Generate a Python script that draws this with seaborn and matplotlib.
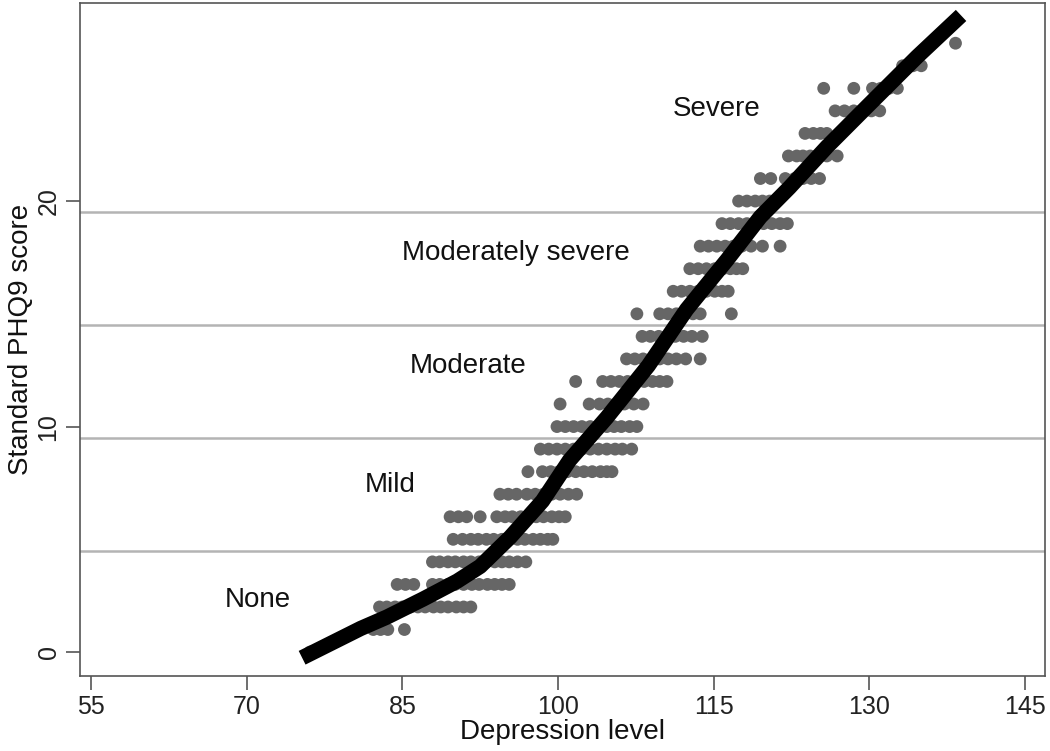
import numpy as np
import pandas as pd
import matplotlib
matplotlib.use("Agg")
import matplotlib.pyplot as plt
import seaborn as sns

# observed points: PHQ9 score -> depression levels seen at that score
none_pts = {
    0: [76.1],
    1: [82.2, 82.9, 83.6, 85.2],
    2: [82.8, 83.5, 84.3, 85.0, 85.8, 86.5, 87.2, 88.0, 88.7, 89.4, 90.2, 90.9, 91.6],
    3: [84.5, 85.3, 86.1, 87.9, 88.6, 89.4, 90.1, 90.9, 91.7, 92.4, 93.2, 93.9, 94.6, 95.3],
    4: [87.9, 88.6, 89.4, 90.1, 90.9, 91.6, 92.4, 93.1, 93.9, 94.6, 95.3, 96.1, 96.9],
}
mild_pts = {
    5: [89.9, 90.8, 91.6, 92.3, 93.1, 93.8, 94.6, 95.3, 96.1, 96.8, 97.6, 98.3, 99.0, 99.5],
    6: [89.6, 90.4, 91.2, 92.5, 94.1, 94.9, 95.6, 96.4, 97.1, 97.9, 98.6, 99.4, 100.1, 100.7],
    7: [94.4, 95.2, 96.0, 97.0, 97.8, 98.6, 99.4, 100.2, 101.0, 101.8],
    8: [97.1, 98.5, 99.3, 100.1, 100.9, 101.7, 102.5, 103.3, 104.1, 104.7, 105.2],
    9: [98.3, 99.1, 99.9, 100.7, 101.5, 102.3, 103.1, 103.9, 104.7, 105.5, 106.2, 107.1],
}
moderate_pts = {
    10: [99.9, 100.7, 101.5, 102.3, 103.1, 103.9, 104.7, 105.4, 106.1, 106.9, 107.6],
    11: [100.2, 103.0, 104.0, 104.8, 105.6, 106.4, 107.3, 108.2],
    12: [101.7, 104.3, 105.1, 105.9, 106.7, 107.5, 108.3, 109.1, 109.8, 110.5],
    13: [106.6, 107.4, 108.2, 109.0, 109.8, 110.6, 111.4, 112.3, 113.7],
    14: [108.1, 108.9, 109.7, 110.5, 111.3, 112.1, 112.9, 113.9],
}
modsev_pts = {
    15: [107.6, 109.8, 110.6, 111.4, 112.2, 113.0, 113.7, 116.7],
    16: [111.1, 111.9, 112.7, 113.5, 114.3, 115.1, 115.8, 116.4],
    17: [112.7, 113.5, 114.3, 115.1, 115.9, 116.6, 117.2, 117.8],
    18: [113.7, 114.5, 115.3, 116.1, 116.9, 117.7, 118.6, 119.7, 121.4],
    19: [115.8, 116.6, 117.4, 118.2, 119.0, 119.8, 120.6, 121.4, 122.1],
}
severe_pts = {
    20: [117.4, 118.2, 119.0, 119.7, 120.4, 121.1],
    21: [119.5, 120.5, 121.9, 122.8, 123.6, 124.4, 125.2],
    22: [122.2, 123.0, 123.6, 124.3, 125.1, 125.9, 126.9],
    23: [123.8, 124.6, 125.3, 125.9, 127.2],
    24: [126.7, 127.6, 128.5, 129.3, 130.2, 131.0],
    25: [125.6, 128.5, 130.3, 131.1, 131.9, 132.7],
    26: [133.2, 134.2, 135.0],
    27: [138.3],
    28: [138.3],
}

# fitted curve
curve_x = [76, 81, 83.5, 87, 90.3, 92.5, 95.4, 98.5, 101.1, 104.7, 108.7,
           112.4, 116.3, 119.5, 122.3, 125.9, 129.8, 134.6, 138.3]
curve_y = [-0.1, 1.05, 1.55, 2.35, 3.15, 3.8, 5.1, 6.7, 8.5, 10.4, 12.7,
           15.2, 17.4, 19.3, 20.6, 22.4, 24.2, 26.4, 28.0]

cutoffs = [4.5, 9.5, 14.5, 19.5]
band_names = ["None", "Mild", "Moderate", "Moderately severe", "Severe"]
band_text_xy = [(71.1, 2.3), (83.8, 7.4), (91.3, 12.7), (95.9, 17.7), (115.3, 24.1)]

x_ticks = [55, 70, 85, 100, 115, 130, 145]
y_ticks = [0, 10, 20]

rows = []
for band in [none_pts, mild_pts, moderate_pts, modsev_pts, severe_pts]:
    for score, levels in band.items():
        for lv in levels:
            rows.append((lv, score))
df = pd.DataFrame(rows, columns=["level", "score"])
curve = pd.DataFrame({"level": curve_x, "score": curve_y})

sns.set_style("white")
plt.rcParams['font.family'] = ['Liberation Sans', 'DejaVu Sans']

fig = plt.figure(figsize=(10.5, 7.51), dpi=100)
ax = fig.add_axes([0.0762, 0.0999, 0.9188, 0.896])

for c in cutoffs:
    ax.axhline(c, color="#b4b4b4", lw=1.8, zorder=1)

sns.scatterplot(data=df, x="level", y="score", color="#666666", s=85,
                edgecolor="none", ax=ax, zorder=2)
sns.lineplot(data=curve, x="level", y="score", sort=False, color="black",
             lw=11, ax=ax, zorder=3, solid_capstyle="projecting")

for name, (tx, ty) in zip(band_names, band_text_xy):
    ax.text(tx, ty, name, fontsize=20, ha="center", va="center", color="#111111")

ax.set_xlim(53.94, 146.9)
ax.set_ylim(-1.06, 28.78)
ax.set_xticks(x_ticks)
ax.set_yticks(y_ticks)
ax.tick_params(axis="both", direction="out", length=10, width=1.2,
               color="#555555", labelsize=18, labelcolor="#222222",
               bottom=True, left=True, pad=4)
plt.setp(ax.get_yticklabels(), rotation=90, va="center")
ax.set_xlabel("Depression level", fontsize=20, color="#111111", labelpad=0)
ax.set_ylabel("Standard PHQ9 score", fontsize=20, color="#111111", labelpad=2)
for sp in ax.spines.values():
    sp.set_color("#555555")
    sp.set_linewidth(1.2)

fig.savefig("out.png", dpi=100)
